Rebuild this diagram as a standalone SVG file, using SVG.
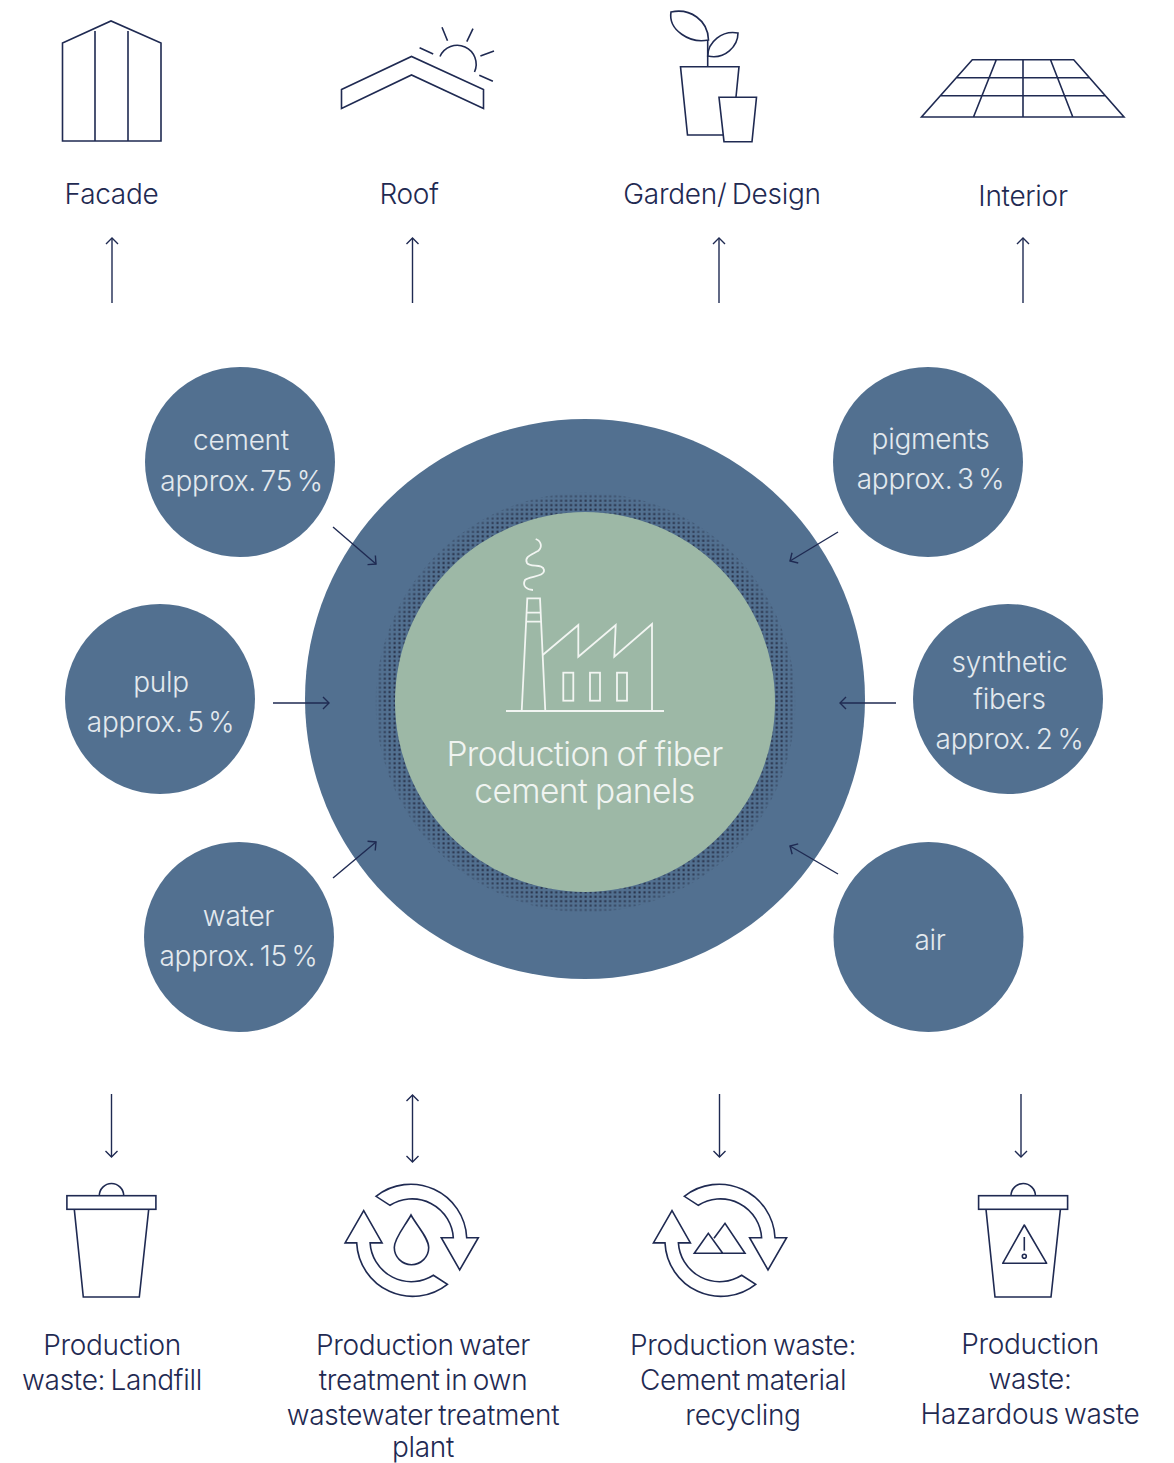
<svg xmlns="http://www.w3.org/2000/svg" width="1174" height="1463" viewBox="0 0 1174 1463">
<style>
text{font-family:Inter,"Liberation Sans",sans-serif;font-weight:300;text-anchor:middle}
.lb{font-size:28px;fill:#1f2a52;letter-spacing:-.3px;word-spacing:-2.2px}
.cl{font-size:28px;fill:#e3e9ee;letter-spacing:-.25px;word-spacing:-3px}
.big{font-size:33.5px;fill:#f0f4f1;letter-spacing:-.6px;word-spacing:-1px}
.disc{fill:#527090}
.ic{fill:none;stroke:#1f2a52;stroke-width:1.6;stroke-linejoin:miter}
.wh{fill:none;stroke:#f2f5f2;stroke-width:1.8}
.ar{fill:none;stroke:#1f2a52;stroke-width:1.4;marker-end:url(#h)}
</style>
<defs>
<marker id="h" markerUnits="userSpaceOnUse" markerWidth="16" markerHeight="16" refX="8" refY="8" orient="auto-start-reverse" overflow="visible"><path d="M2,2L8,8L2,14" fill="none" stroke="#1f2a52" stroke-width="1.4"/></marker>
<pattern id="dots" width="4.9" height="4.45" patternUnits="userSpaceOnUse"><rect x="1.5" y="1.3" width="2.1" height="2" fill="#252d44"/></pattern>
<radialGradient id="fade" gradientUnits="userSpaceOnUse" cx="585.5" cy="702.5" r="210"><stop offset="0.95" stop-color="#fff"/><stop offset="1" stop-color="#fff" stop-opacity="0.35"/></radialGradient>
<mask id="halo" maskUnits="userSpaceOnUse" x="370" y="485" width="430" height="435"><circle cx="585.5" cy="702.5" r="210" fill="url(#fade)"/></mask>
<path id="rec" d="M-35.7,-44A56,56 0 0 1 55,-2.6H66.6L48,29.7L29.6,-2.6H41.6A41.3,41.3 0 0 0 -21.7,-35Z"/>
<g id="bin" class="ic"><path d="M-12.2,0A12.2,12.2 0 0 1 12.2,0"/><rect x="-44.6" y="0" width="89" height="13.6"/><path d="M-37.2,13.6L-28.2,101.3H27.8L37.2,13.6"/></g>
</defs>
<rect width="1174" height="1463" fill="#fff"/>

<g id="center">
<circle cx="585" cy="699" r="280" class="disc"/>
<circle cx="585.5" cy="702.5" r="210" fill="url(#dots)" mask="url(#halo)"/>
<circle cx="585" cy="702" r="190" fill="#9db8a6"/>
<g class="wh">
<path d="M506,711H664"/>
<path d="M521.7,711L527.3,598.3H540L545.3,711"/>
<path d="M526.4,612.7H540.8M526,621.7H541.2"/>
<path d="M542.7,655L578.3,625V656.7L615.7,625L614.3,656.7L652,624V711"/>
<rect x="563.3" y="672.7" width="10" height="28"/><rect x="590" y="672.7" width="10" height="28"/><rect x="617" y="672.7" width="10" height="28"/>
<path d="M535.7,539C541,541 543,547 538,551C531,555 524,557 527,563C530,568 543,563 544,570C545,577 529,576 525,580C522,586 527,590 533,590"/>
</g>
<text class="big" x="584.5" y="766">Production of fiber</text>
<text class="big" x="584.5" y="803">cement panels</text>
</g>

<g id="cement"><circle cx="240" cy="462" r="95" class="disc"/><text class="cl" x="241" y="450">cement</text><text class="cl" x="241.500" y="491">approx. 75 %</text></g>
<g id="pigments"><circle cx="928" cy="462" r="95" class="disc"/><text class="cl" x="930.500" y="449">pigments</text><text class="cl" x="930.500" y="489">approx. 3 %</text></g>
<g id="pulp"><circle cx="160" cy="699" r="95" class="disc"/><text class="cl" x="161" y="692">pulp</text><text class="cl" x="160.500" y="732">approx. 5 %</text></g>
<g id="synthetic"><circle cx="1008" cy="699" r="95" class="disc"/><text class="cl" x="1009.500" y="672">synthetic</text><text class="cl" x="1009.500" y="709">fibers</text><text class="cl" x="1009.500" y="749">approx. 2 %</text></g>
<g id="water"><circle cx="239" cy="937" r="95" class="disc"/><text class="cl" x="238.500" y="926">water</text><text class="cl" x="238.500" y="966">approx. 15 %</text></g>
<g id="air"><circle cx="928.5" cy="937" r="95" class="disc"/><text class="cl" x="930" y="950">air</text></g>

<g id="facade"><path class="ic" d="M62.5,141V43L111,21L161,43V141ZM95,31V141M128,31V141"/><text class="lb" x="111.5" y="204">Facade</text></g>
<g id="roof"><g class="ic"><path d="M341.500,89.500L411.500,56.500L483.500,89.500V108.500L411.500,75L341.500,108.500Z"/><path d="M440,56.500A18.700,18.700 0 0 1 474.500,72"/><path d="M442,27.300L447.500,40.700M473,28.700L466.800,41.700M494,51L480.400,56M419.600,47.700L433.200,54M479.300,75.300L492.900,81.300"/></g><text class="lb" x="409" y="204">Roof</text></g>
<g id="garden"><g class="ic"><path d="M671,12C690,8 708,20 708.500,40C690,44 668,30 671,12Z"/><path d="M707.700,40V66.700"/><path d="M707.700,56C708,42 722,30 738,33C738,46 725,60 707.700,56Z"/><path d="M723,135H687.500L680.500,66.700H739L736,97"/><path d="M719,97.300H756.500L752,141.700H724Z"/></g><text class="lb" x="722" y="204">Garden/ Design</text></g>
<g id="interior"><path class="ic" d="M921.500,117H1124L1073.700,59.700H972.300ZM956.700,77.700H1089.300M940.600,95.700H1105.400M1023,59.700V117M996.300,59.700L973.500,117M1050.500,59.700L1072.800,117"/><text class="lb" x="1023" y="206">Interior</text></g>

<g id="landfill"><use href="#bin" x="111.500" y="1195.700"/><text class="lb" x="112" y="1355">Production</text><text class="lb" x="112" y="1390">waste: Landfill</text></g>
<g id="treatment"><g class="ic"><use href="#rec" transform="translate(411.700 1240.300)"/><use href="#rec" transform="translate(411.700 1240.300) rotate(180)"/><path d="M411,1215C405,1226 394.300,1238 394.300,1247.500A17,17 0 0 0 428.700,1247.500C428.700,1238 417,1226 411,1215Z"/></g><text class="lb" x="423" y="1355">Production water</text><text class="lb" x="423" y="1390">treatment in own</text><text class="lb" x="423" y="1425">wastewater treatment</text><text class="lb" x="423" y="1456.500">plant</text></g>
<g id="recycling"><g class="ic"><use href="#rec" transform="translate(720 1240.300)"/><use href="#rec" transform="translate(720 1240.300) rotate(180)"/><path d="M694.300,1253.300L708.300,1233.300L722.700,1253.300ZM722.700,1253.300H745L725,1223.300L714,1238.300"/></g><text class="lb" x="743" y="1355">Production waste:</text><text class="lb" x="743" y="1390">Cement material</text><text class="lb" x="743" y="1425">recycling</text></g>
<g id="hazardous"><use href="#bin" x="1023.200" y="1195.700"/><g class="ic"><path stroke-linejoin="round" d="M1024.300,1225L1002.700,1263.300H1046.700Z"/><path d="M1024.300,1237V1250.700"/><circle cx="1024.300" cy="1256.300" r="2"/></g><text class="lb" x="1030" y="1354">Production</text><text class="lb" x="1030" y="1389">waste:</text><text class="lb" x="1030" y="1424">Hazardous waste</text></g>

<g id="connectors">
<path class="ar" d="M112,303V238"/><path class="ar" d="M412.500,303V238"/><path class="ar" d="M719,303V238"/><path class="ar" d="M1023,303V238"/>
<path class="ar" d="M333,527L376,564"/><path class="ar" d="M273,703H329"/><path class="ar" d="M333,878L376,842"/>
<path class="ar" d="M838,532L790,561"/><path class="ar" d="M896,703H840"/><path class="ar" d="M838,874L790,846"/>
<path class="ar" d="M111.500,1094V1157"/><path class="ar" style="marker-start:url(#h)" d="M412.500,1095V1162"/><path class="ar" d="M719.500,1094V1157"/><path class="ar" d="M1021,1094V1157"/>
</g>
</svg>
